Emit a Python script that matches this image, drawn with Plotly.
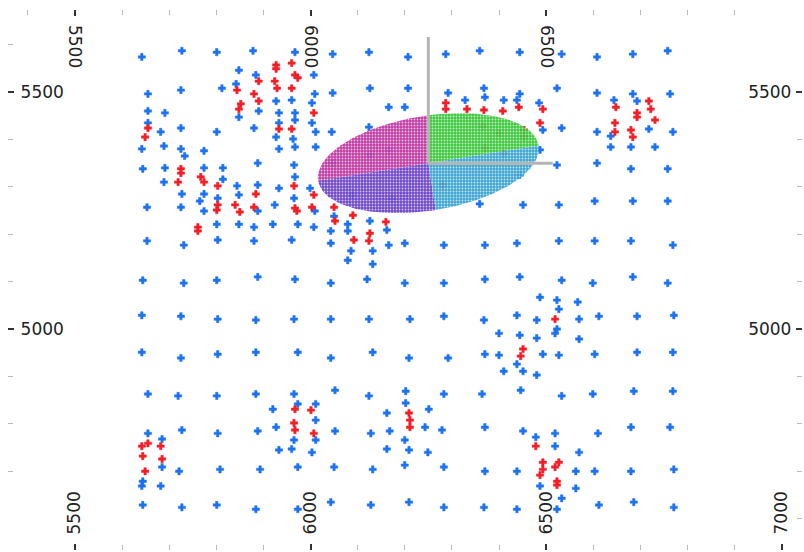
import numpy as np
import plotly.graph_objects as go

# Drill-hole collars (easting, northing): samples without / with grade
blue_holes = [
    (5642, 5574), (5727, 5587), (5801, 5584), (5878, 5587), (5967, 5584), (6047, 5580), (6124, 5584),
    (6207, 5574), (6287, 5580), (6359, 5587), (6444, 5584), (6533, 5580), (6608, 5574), (6684, 5580),
    (6758, 5587),
    (5848, 5546), (5884, 5536), (6007, 5536), (5655, 5496), (5725, 5504), (5812, 5508), (5842, 5517),
    (5848, 5447), (5890, 5460), (5927, 5481), (5960, 5483), (6003, 5477), (6009, 5496), (6047, 5498),
    (6126, 5508), (6166, 5468), (5655, 5460), (5691, 5456), (5655, 5435), (5642, 5380), (5682, 5416),
    (5725, 5424), (5801, 5416), (5880, 5424), (5933, 5456), (5933, 5435), (5927, 5405), (5933, 5380),
    (5967, 5456), (5967, 5441), (5963, 5401), (5967, 5384), (6003, 5435), (6011, 5416), (6045, 5416),
    (6011, 5384), (6124, 5426), (5689, 5386), (5725, 5380), (5733, 5365), (5774, 5376), (5644, 5338),
    (5691, 5340), (5689, 5310), (5774, 5340), (5814, 5340), (5814, 5316), (5727, 5285), (5774, 5285),
    (5765, 5270), (5803, 5276), (5774, 5249), (5653, 5257), (5725, 5257), (5844, 5302), (5848, 5283),
    (5888, 5350), (5888, 5304), (5888, 5249), (5924, 5262), (5933, 5297), (5965, 5346), (5967, 5321),
    (5965, 5276), (5999, 5297), (6009, 5249), (6050, 5238), (5801, 5221), (5848, 5221), (5880, 5215),
    (5920, 5221), (5973, 5221), (6007, 5215), (6043, 5207), (6043, 5181), (6079, 5221), (6079, 5207),
    (6126, 5228), (6162, 5209), (6166, 5177), (6086, 5165), (6132, 5165), (6079, 5145), (6132, 5137),
    (5653, 5186), (5731, 5177), (5803, 5188), (5880, 5186), (5960, 5188),
    (6207, 5508), (6292, 5498), (6368, 5508), (6370, 5489), (6328, 5483), (6410, 5483), (6438, 5483),
    (6444, 5496), (6485, 5477), (6523, 5508), (6608, 5498), (6684, 5496), (6693, 5481), (6763, 5496),
    (6644, 5483), (6200, 5468), (6493, 5420), (6533, 5424), (6608, 5416), (6637, 5407), (6637, 5384),
    (6680, 5384), (6718, 5422), (6731, 5384), (6769, 5416), (6487, 5378), (6523, 5346), (6608, 5350),
    (6680, 5338), (6758, 5338), (6359, 5264), (6451, 5262), (6527, 5262), (6603, 5270), (6684, 5270),
    (6758, 5270), (6200, 5181), (6283, 5177), (6370, 5177), (6438, 5181), (6527, 5186), (6603, 5186),
    (6680, 5186), (6769, 5177),
    (5644, 5103), (5731, 5097), (5801, 5103), (5888, 5110), (5967, 5105), (6043, 5097), (6120, 5105),
    (6200, 5097), (6283, 5097), (6370, 5105), (6444, 5110), (6533, 5103), (6599, 5097), (6684, 5110),
    (6758, 5097), (6487, 5067), (6523, 5061), (6567, 5057), (6527, 5042),
    (5642, 5029), (5725, 5027), (5803, 5021), (5884, 5019), (5965, 5021), (6043, 5021), (6124, 5021),
    (6211, 5021), (6283, 5027), (6368, 5019), (6438, 5029), (6480, 5019), (6570, 5021), (6612, 5027),
    (6693, 5027), (6771, 5029), (6523, 5000), (6519, 4991), (6400, 4991), (6444, 4987), (6480, 4981),
    (6570, 4979),
    (5642, 4951), (5725, 4939), (5803, 4947), (5884, 4951), (5973, 4951), (6043, 4939), (6132, 4951),
    (6209, 4939), (6292, 4939), (6370, 4947), (6400, 4945), (6493, 4947), (6527, 4945), (6603, 4947),
    (6693, 4951), (6769, 4951), (6410, 4911), (6438, 4926), (6451, 4911), (6480, 4903),
    (5655, 4863), (5719, 4859), (5801, 4859), (5884, 4863), (5965, 4863), (6052, 4871), (6124, 4859),
    (6202, 4869), (6283, 4863), (6364, 4863), (6446, 4871), (6533, 4859), (6599, 4863), (6686, 4869),
    (6769, 4869), (5973, 4842), (5920, 4831), (6011, 4842), (6162, 4823), (6202, 4844), (6251, 4831),
    (6011, 4808), (5927, 4793), (5888, 4785), (5803, 4780), (5727, 4787), (5655, 4780), (5685, 4768),
    (6052, 4785), (6128, 4780), (6168, 4785), (6243, 4793), (6279, 4787), (6370, 4793), (6451, 4785),
    (6478, 4772), (6519, 4780), (6610, 4780), (6680, 4793), (6763, 4793), (6011, 4766), (5965, 4766),
    (5933, 4745), (5960, 4747), (6003, 4740), (6162, 4747), (6200, 4766), (6209, 4745), (6249, 4740),
    (6519, 4753), (6570, 4740),
    (5685, 4709), (5644, 4679), (5642, 4669), (5682, 4669), (5721, 4700), (5808, 4704), (5893, 4704),
    (5973, 4709), (6050, 4709), (6132, 4704), (6200, 4713), (6283, 4709), (6370, 4700), (6438, 4700),
    (6563, 4700), (6603, 4700), (6680, 4700), (6771, 4704), (6487, 4669), (6563, 4664), (6533, 4643),
    (6523, 4620),
    (5644, 4629), (5727, 4624), (5801, 4629), (5884, 4620), (5973, 4620), (6043, 4635), (6128, 4629),
    (6209, 4635), (6283, 4624), (6368, 4624), (6438, 4620), (6612, 4629), (6686, 4635), (6771, 4624),
    # under the search ellipse
    (6047, 5350), (6126, 5367), (6166, 5378), (6088, 5283), (6173, 5276), (6281, 5304), (6444, 5325),
]

red_holes = [
    (5927, 5557), (5927, 5549), (5960, 5561), (5967, 5536), (5973, 5530), (5890, 5523), (5924, 5523),
    (5844, 5504), (5880, 5496), (5890, 5481), (5852, 5475), (5848, 5464), (5929, 5508), (5960, 5508),
    (6007, 5456), (5655, 5424), (5649, 5405), (5933, 5422), (5960, 5422),
    (5725, 5338), (5725, 5329), (5719, 5310), (5767, 5321), (5774, 5310), (5803, 5302), (5803, 5262),
    (5801, 5251), (5840, 5262), (5850, 5247), (5884, 5285), (5880, 5257), (5965, 5302), (5967, 5255),
    (5971, 5249), (6007, 5283), (6003, 5257), (6050, 5257), (6052, 5228), (5761, 5215), (5761, 5207),
    (6092, 5188), (6124, 5186), (6126, 5202), (6160, 5226), (6090, 5240),
    (6287, 5477), (6287, 5464), (6332, 5464), (6368, 5462), (6408, 5460), (6442, 5468), (6493, 5464),
    (6487, 5435), (6648, 5468), (6646, 5435), (6646, 5416), (6693, 5456), (6693, 5447), (6718, 5481),
    (6722, 5464), (6731, 5441), (6680, 5420), (6684, 5405),
    (6519, 5021), (6451, 4958), (6446, 4943),
    (5967, 4831), (6001, 4829), (5965, 4802), (5967, 4787), (6007, 4780), (6209, 4823), (6211, 4808),
    (6211, 4793), (5642, 4753), (5655, 4759), (5682, 4753), (5644, 4732), (5685, 4726), (5649, 4700),
    (6478, 4753), (6493, 4719), (6493, 4704), (6487, 4692), (6527, 4719), (6519, 4709), (6523, 4679),
    (6523, 4671),
    # under the search ellipse
    (6366, 5428), (6400, 5413), (6370, 5382), (6453, 5420), (6453, 5405), (6410, 5371), (6279, 5304),
]

# Search ellipse
ell_center = (6250, 5350)
ell_major = 237
ell_minor = 100
ell_azimuth = 9                      # degrees anticlockwise from east
sector_edges = [9, 90, 189, 279, 369]
sector_colors = ["#2fc42f", "#bb2c9c", "#6338c4", "#2f9fcf"]
axis_north = 266
axis_east = 264

x_range = [5358, 7043]
y_range = [4534, 5673]
label_font = dict(family="DejaVu Sans", size=17, color="#222222")

fig = go.Figure()

be, bn = zip(*blue_holes)
re_, rn = zip(*red_holes)
fig.add_trace(go.Scatter(x=be, y=bn, mode="markers",
                         marker=dict(symbol="cross", size=6, color="#1c72f0",
                                     line=dict(width=0.5, color="#1c72f0"))))
fig.add_trace(go.Scatter(x=re_, y=rn, mode="markers",
                         marker=dict(symbol="cross", size=6, color="#f31e26",
                                     line=dict(width=0.5, color="#f31e26"))))


def ellipse_radius(phi_deg):
    d = np.radians(phi_deg - ell_azimuth)
    return 1.0 / np.sqrt((np.cos(d) / ell_major) ** 2 + (np.sin(d) / ell_minor) ** 2)


cx, cy = ell_center
for k, col in enumerate(sector_colors):
    phi = np.linspace(sector_edges[k], sector_edges[k + 1], 80)
    r = ellipse_radius(phi)
    xs = np.concatenate([[cx], cx + r * np.cos(np.radians(phi)), [cx]])
    ys = np.concatenate([[cy], cy + r * np.sin(np.radians(phi)), [cy]])
    fig.add_trace(go.Scatter(
        x=xs, y=ys, mode="lines", fill="toself", line=dict(width=0, color=col),
        fillcolor=col, opacity=0.93,
        fillpattern=dict(shape=".", bgcolor=col, fgcolor="white", fgopacity=0.7,
                         size=3, solidity=0.3),
        hoverinfo="skip"))

# search axes
fig.add_trace(go.Scatter(x=[cx, cx], y=[cy, cy + axis_north], mode="lines",
                         line=dict(color="#b4b4b4", width=3), hoverinfo="skip"))
fig.add_trace(go.Scatter(x=[cx, cx + axis_east], y=[cy, cy], mode="lines",
                         line=dict(color="#b4b4b4", width=3), hoverinfo="skip"))

# carrier for the mirrored top / right axes
fig.add_trace(go.Scatter(x=[x_range[0]], y=[y_range[0]], xaxis="x2", yaxis="y2",
                         mode="markers", marker=dict(opacity=0), hoverinfo="skip"))

common = dict(tickmode="linear", dtick=500, ticks="inside", ticklen=6, tickwidth=2,
              tickcolor="#333333", ticklabelposition="inside", tickfont=label_font,
              showgrid=False, zeroline=False, showline=False, fixedrange=True)
minor_x = dict(tick0=5500, dtick=100, ticks="inside", ticklen=5, tickcolor="#bbbbbb", tickwidth=1)
minor_y = dict(tick0=5000, dtick=100, ticks="inside", ticklen=5, tickcolor="#bbbbbb", tickwidth=1)

fig.update_layout(
    width=804, height=552,
    margin=dict(l=8, r=2, t=10, b=2),
    plot_bgcolor="white", paper_bgcolor="white",
    showlegend=False,
    xaxis=dict(range=x_range, tick0=5500, tickangle=-90, side="bottom", minor=minor_x,
               ticklabelstandoff=4, **common),
    xaxis2=dict(range=x_range, tick0=5500, tickangle=90, side="top", overlaying="x",
                anchor="y", minor=minor_x, ticklabelstandoff=0, **common),
    yaxis=dict(range=y_range, tick0=5000, side="left", minor=minor_y,
               ticklabelstandoff=7, **common),
    yaxis2=dict(range=y_range, tick0=5000, side="right", overlaying="y",
                anchor="x", minor=minor_y, ticklabelstandoff=5, **common),
)

fig.write_html("out.html")
